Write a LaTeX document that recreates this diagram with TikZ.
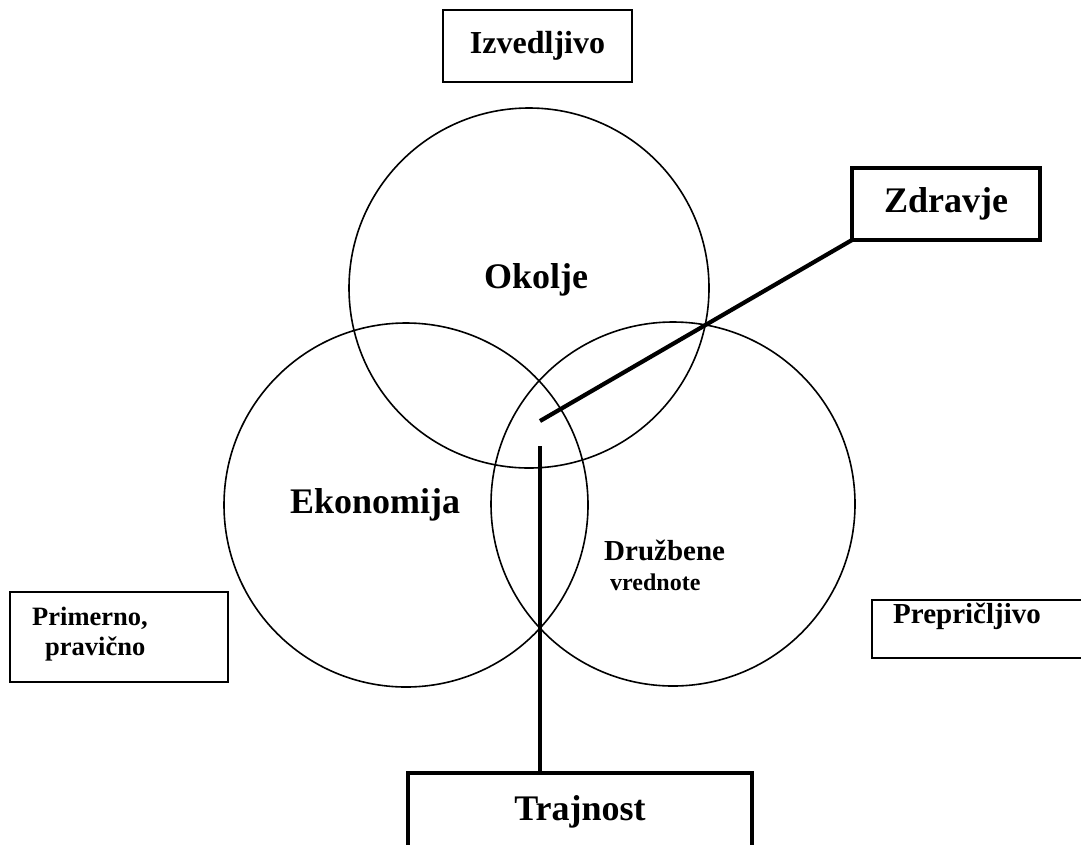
\documentclass[tikz,border=0pt]{standalone}
\usepackage{fontspec}
\setmainfont{Liberation Serif}
\begin{document}
\begin{tikzpicture}[x=1pt,y=-1pt,
  ring/.style={draw, circle, line width=1.6pt, minimum size=#1, inner sep=0pt},
  thinbox/.style={draw, rectangle, line width=1.6pt, inner sep=0pt, outer sep=0pt},
  thickbox/.style={draw, rectangle, line width=4pt, inner sep=0pt, outer sep=0pt},
  link/.style={line width=4.2pt},
  fsz/.style={font=\bfseries\fontsize{#1}{#1}\selectfont},
  lbl/.style={fsz=#1, inner sep=0pt, anchor=base west}
]
\useasboundingbox (0,0) rectangle (1081,844);

% the three overlapping circles
\node[ring=360pt] (okolje) at (529,288) {};
\node[ring=364pt] (ekon) at (406,505) {};
\node[ring=364pt] (druzb) at (673,504) {};

% circle labels
\node[lbl=36] (tokolje) at (484,288) {Okolje};
\node[lbl=36] (tekon) at (290,513) {Ekonomija};
\node[lbl=29] (tdruzb) at (604,560) {Družbene};
\node[lbl=24] (tvred) at (610,590) {vrednote};

% boxes
\node[thinbox, fsz=32, minimum width=189pt, minimum height=72pt] (izv) at (537.5,46) {Izvedljivo};
\node[thickbox, fsz=36, minimum width=188pt, minimum height=72pt] (zd) at (946,204) {\raisebox{-3pt}{Zdravje}};
\node[thickbox, fsz=36, minimum width=344pt, minimum height=77pt] (tr) at (580,811.5) {\raisebox{-2pt}{Trajnost}};

\node[thinbox, minimum width=218pt, minimum height=90pt] (prim) at (119,637) {};
\node[lbl=26.5] (tprim1) at (32,625) {Primerno,};
\node[lbl=26.5] (tprim2) at (45,655) {pravično};

\node[thinbox, minimum width=218pt, minimum height=58pt] (prep) at (981,629) {};
\node[lbl=29] (tprep) at (893,623) {Prepričljivo};

% connectors
\coordinate (zdend) at (540,421);
\draw[link] (zd.south west) -- (zdend);
\coordinate (trend) at (540,446);
\draw[link] (trend) -- (trend |- tr.north);
\end{tikzpicture}
\end{document}
